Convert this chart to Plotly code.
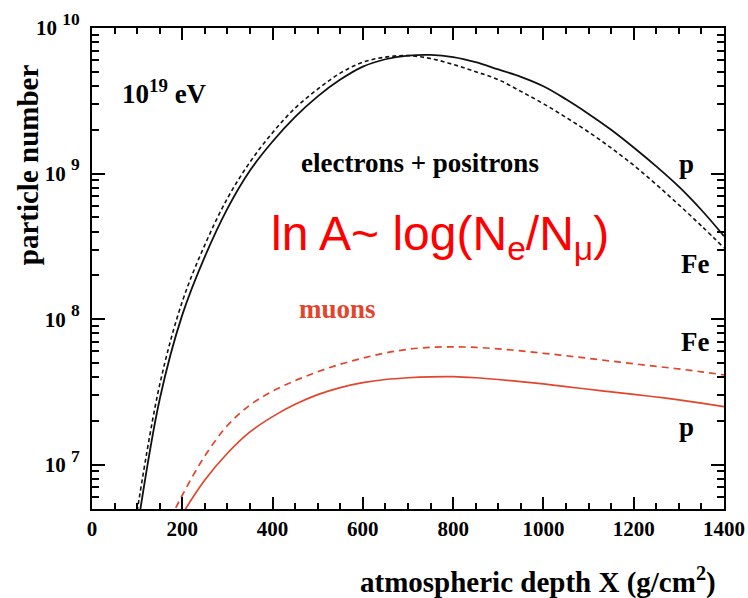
import plotly.graph_objects as go

# ---- data ----
depth_e = [100, 150, 200, 250, 300, 350, 400, 450, 500, 550, 600, 650, 700, 750,
           800, 850, 900, 950, 1000, 1050, 1100, 1150, 1200, 1250, 1300, 1350, 1400]
electrons_p = [3.55e6, 2.82e7, 1.07e8, 2.69e8, 5.75e8, 1.05e9, 1.66e9, 2.45e9, 3.39e9,
               4.42e9, 5.43e9, 6.10e9, 6.46e9, 6.53e9, 6.31e9, 5.82e9, 5.19e9, 4.62e9,
               3.98e9, 3.24e9, 2.57e9, 2.00e9, 1.51e9, 1.12e9, 8.13e8, 5.62e8, 3.72e8]
electrons_fe = [4.79e6, 3.55e7, 1.32e8, 3.24e8, 6.76e8, 1.20e9, 1.91e9, 2.82e9, 3.80e9,
                4.90e9, 5.82e9, 6.31e9, 6.46e9, 6.17e9, 5.62e9, 5.01e9, 4.42e9, 3.67e9,
                3.02e9, 2.43e9, 1.93e9, 1.50e9, 1.14e9, 8.41e8, 6.10e8, 4.37e8, 3.09e8]

depth_mu = [150, 200, 250, 300, 350, 400, 450, 500, 550, 600, 650, 700, 750, 800,
            850, 900, 950, 1000, 1050, 1100, 1150, 1200, 1250, 1300, 1350, 1400]
muons_p = [2.40e6, 4.57e6, 7.85e6, 1.20e7, 1.68e7, 2.14e7, 2.60e7, 3.03e7, 3.39e7, 3.66e7,
           3.85e7, 3.96e7, 4.02e7, 4.03e7, 3.96e7, 3.85e7, 3.72e7, 3.59e7, 3.44e7, 3.30e7,
           3.17e7, 3.04e7, 2.92e7, 2.79e7, 2.65e7, 2.51e7]
muons_fe = [3.02e6, 6.17e6, 1.15e7, 1.86e7, 2.57e7, 3.20e7, 3.78e7, 4.35e7, 4.90e7, 5.40e7,
            5.86e7, 6.21e7, 6.40e7, 6.46e7, 6.40e7, 6.25e7, 6.05e7, 5.83e7, 5.61e7, 5.38e7,
            5.15e7, 4.94e7, 4.74e7, 4.55e7, 4.35e7, 4.14e7]

x_tick_vals = [0, 200, 400, 600, 800, 1000, 1200, 1400]
x_tick_text = ["<b>%d</b>" % v for v in x_tick_vals]
y_decades = [7, 8, 9, 10]
y_tick_vals = [10 ** d for d in y_decades]
y_tick_text = ["<b>10 <span style='font-size:25px'><sup>%d</sup></span></b>" % d
               for d in y_decades]
y_minor_vals = [m * 10 ** d for d in range(6, 10) for m in range(2, 10)]

SERIF = "Liberation Serif"
BLACK = "#111111"
RED = "#e2452c"

fig = go.Figure()
fig.add_trace(go.Scatter(x=depth_e, y=electrons_p, mode="lines",
                         line=dict(color=BLACK, width=1.8, shape="spline")))
fig.add_trace(go.Scatter(x=depth_e, y=electrons_fe, mode="lines",
                         line=dict(color=BLACK, width=1.6, dash="4px,3px", shape="spline")))
fig.add_trace(go.Scatter(x=depth_mu, y=muons_p, mode="lines",
                         line=dict(color=RED, width=1.7, shape="spline")))
fig.add_trace(go.Scatter(x=depth_mu, y=muons_fe, mode="lines",
                         line=dict(color=RED, width=1.7, dash="7px,5px", shape="spline")))

axis_common = dict(showgrid=False, zeroline=False, showline=True, linecolor="black",
                   linewidth=2, ticks="inside", mirror="allticks", tickcolor="black",
                   tickwidth=2, automargin=False)

fig.update_xaxes(range=[0, 1400], tickmode="array", tickvals=x_tick_vals,
                 ticktext=x_tick_text, ticklen=12,
                 tickfont=dict(family=SERIF, size=21, color="black"),
                 minor=dict(dtick=50, ticks="inside", ticklen=6, tickwidth=1.5,
                            tickcolor="black", showgrid=False),
                 **axis_common)
fig.update_yaxes(type="log", range=[6.696, 10], tickmode="array", tickvals=y_tick_vals,
                 ticktext=y_tick_text, ticklen=13, ticklabelstandoff=6,
                 tickfont=dict(family=SERIF, size=21, color="black"),
                 minor=dict(tickmode="array", tickvals=y_minor_vals, ticks="inside",
                            ticklen=7, tickwidth=1.5, tickcolor="black", showgrid=False),
                 **axis_common)

def note(text, x, y, size, color="black", family=SERIF, xanchor="center", angle=0):
    fig.add_annotation(text=text, x=x, y=y, xref="paper", yref="paper", showarrow=False,
                       xanchor=xanchor, yanchor="middle", textangle=angle,
                       font=dict(family=family, size=size, color=color))

note("<b>10<sup>19</sup> eV</b>", 0.044, 0.867, 27, xanchor="left")
note("<b>electrons + positrons</b>", 0.519, 0.719, 27)
note("ln A~ log(N<sub>e</sub>/N<sub>μ</sub>)", 0.551, 0.565, 48, color="#ff0000",
     family="Liberation Sans")
note("<b>muons</b>", 0.389, 0.416, 27, color=RED)
note("<b>p</b>", 0.941, 0.717, 27)
note("<b>Fe</b>", 0.954, 0.51, 27)
note("<b>Fe</b>", 0.954, 0.348, 27)
note("<b>p</b>", 0.941, 0.17, 27)
note("<b>particle number</b>", -0.101, 0.715, 29, angle=-90)
note("<b>atmospheric depth X (g/cm<sup>2</sup>)</b>", 0.705, -0.148, 29)

fig.update_layout(width=748, height=598, margin=dict(l=92, r=24, t=28, b=89),
                  paper_bgcolor="white", plot_bgcolor="white", showlegend=False)

fig.write_html("out.html")
